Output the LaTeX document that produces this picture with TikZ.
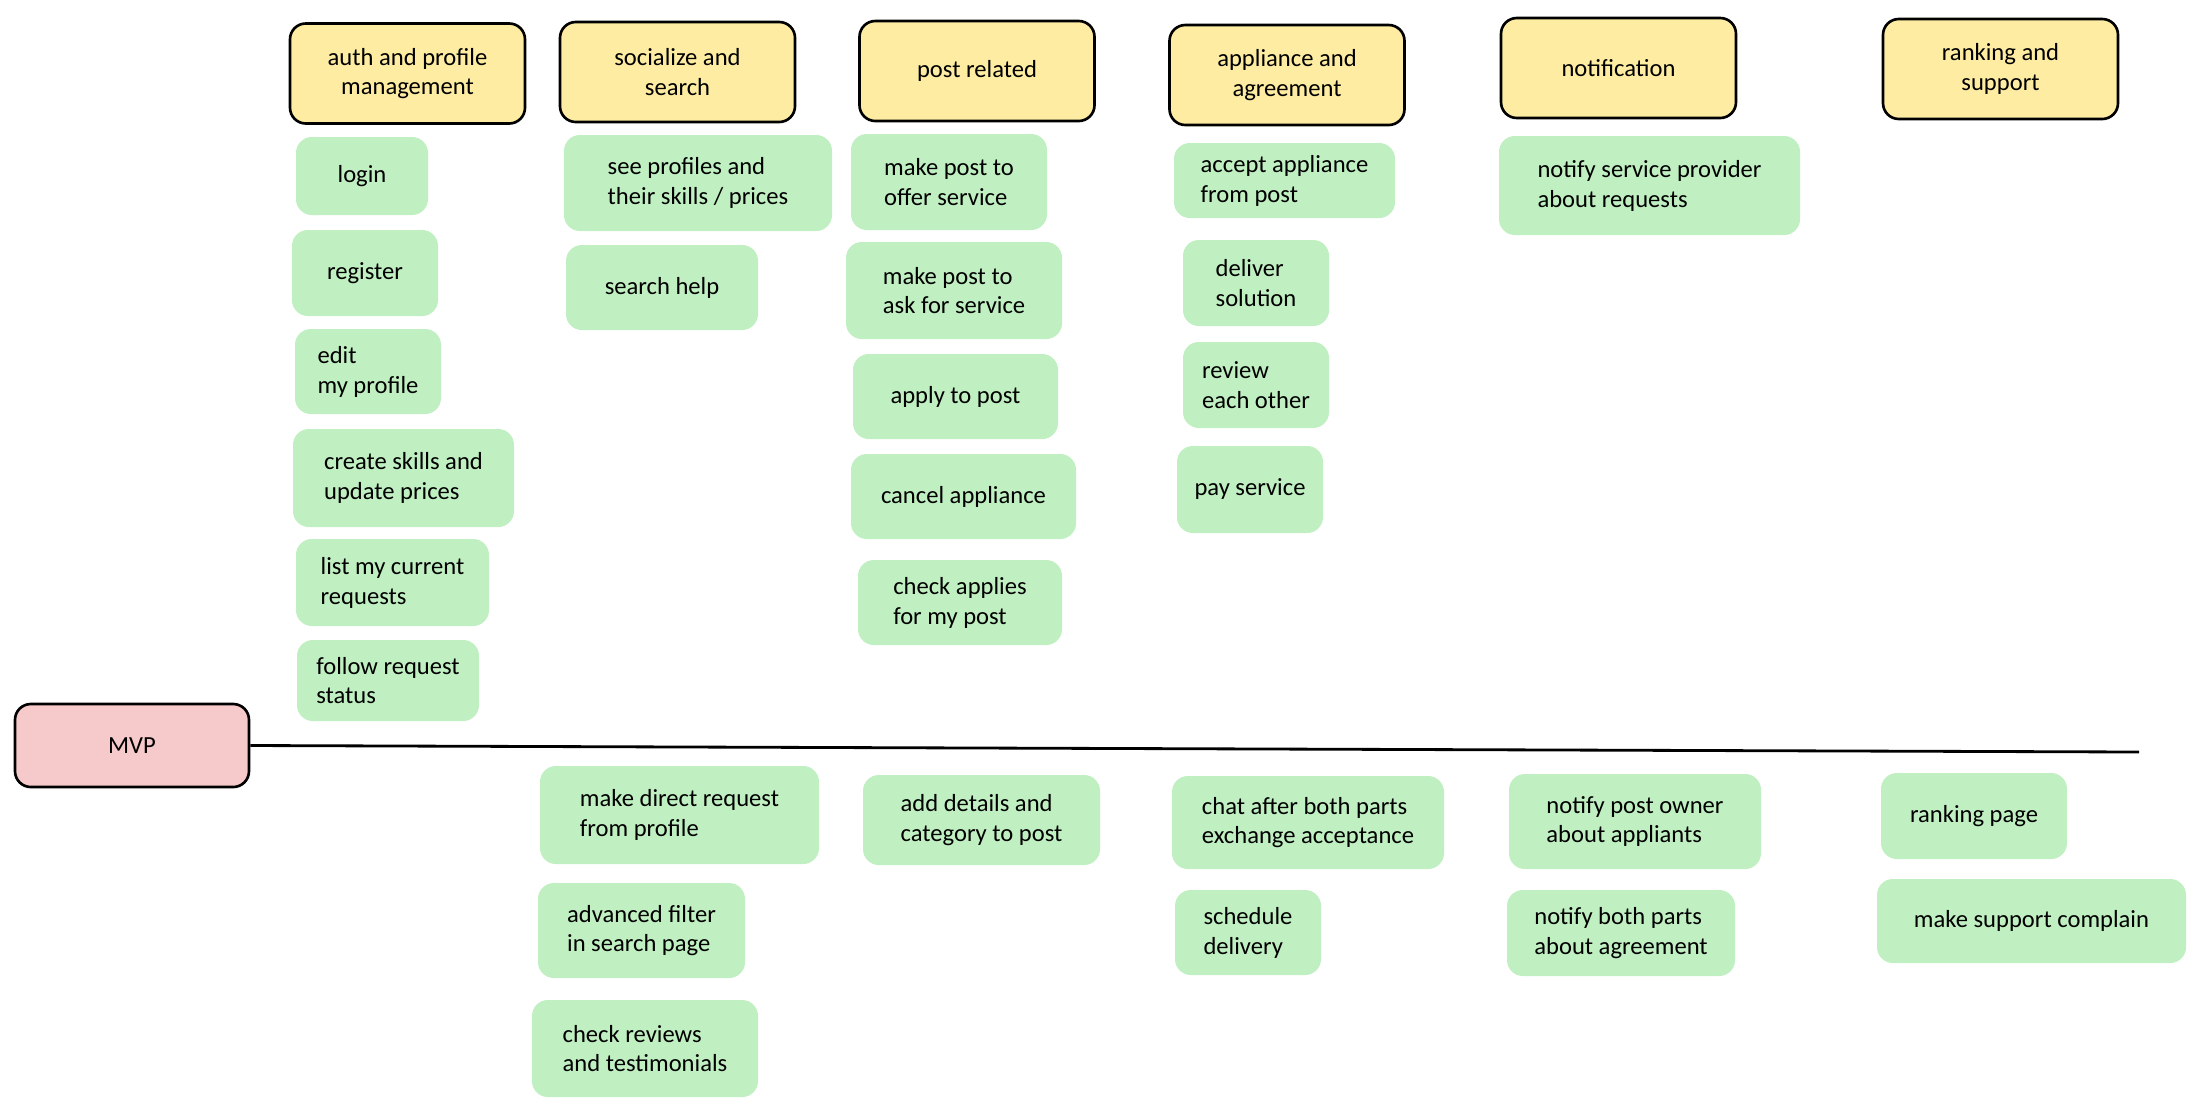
\documentclass[tikz,border=0pt]{standalone}
\usepackage{fontspec}
\setmainfont{Carlito}
\usepackage{xcolor}
\usepackage{tikz}
\definecolor{headyellow}{RGB}{253,236,161}
\definecolor{taskgreen}{RGB}{192,240,193}
\definecolor{mvppink}{RGB}{246,201,202}

\begin{document}
\begin{tikzpicture}[x=0.02cm, y=-0.02cm,
  every node/.style={font=\fontsize{14}{17}\selectfont},
  sz/.style 2 args={minimum width=#1*0.02cm, minimum height=#2*0.02cm},
  head/.style={draw=black, line width=1.5pt, fill=headyellow, rounded corners=9pt, align=center, inner sep=0pt},
  task/.style={fill=taskgreen, rounded corners=9pt, align=left, inner sep=0pt},
  mvpbox/.style={draw=black, line width=1.5pt, fill=mvppink, rounded corners=9pt, inner sep=0pt}]
\useasboundingbox (0,0) rectangle (2200,1110);

% feature groups
\node[head, sz={235}{100}] (auth) at (407.5,73.5) {auth and profile\\management};
\node[head, sz={235}{100}] (social) at (677.5,72) {socialize and\\search};
\node[head, sz={235}{100}] (post) at (977,71) {post related};
\node[head, sz={235}{100}] (agree) at (1287,75) {appliance and\\agreement};
\node[head, sz={235}{100}] (notif) at (1618.5,68) {notification};
\node[head, sz={235}{100}] (rank) at (2000.5,69) {ranking and\\support};

% above the line
\node[task, sz={132}{78}] (login) at (362,176) {login};
\node[task, sz={146}{86}] (register) at (365,273) {register};
\node[task, sz={146}{85}] (edit) at (368,371.5) {edit\\my profile};
\node[task, sz={221}{98}] (skills) at (403.5,478) {create skills and\\update prices};
\node[task, sz={193}{87}] (list) at (392.5,582.5) {list my current\\requests};
\node[task, sz={182}{81}] (follow) at (388,680.5) {follow request\\status};

\node[task, sz={268}{96}] (profiles) at (698,183) {see profiles and\\their skills / prices};
\node[task, sz={192}{85}] (search) at (662,287.5) {search help};

\node[task, sz={196}{96}] (offer) at (949,182) {make post to\\offer service};
\node[task, sz={216}{97}] (ask) at (954,290.5) {make post to\\ask for service};
\node[task, sz={205}{85}] (apply) at (955.5,396.5) {apply to post};
\node[task, sz={225}{85}] (cancel) at (963.5,496.5) {cancel appliance};
\node[task, sz={204}{85}] (applies) at (960,602.5) {check applies\\for my post};

\node[task, sz={221}{75}] (accept) at (1284.5,180.5) {accept appliance\\from post};
\node[task, sz={146}{86}] (deliver) at (1256,283) {deliver\\solution};
\node[task, sz={146}{86}] (review) at (1256,385) {review\\each other};
\node[task, sz={146}{87}] (pay) at (1250,489.5) {pay service};

\node[task, sz={301}{99}] (provider) at (1649.5,185.5) {notify service provider\\about requests};

% mvp cut
\node[mvpbox, sz={234}{83}] (mvp) at (132,745.5) {MVP};
\coordinate (cutend) at (2139,752);
\draw[line width=1.6pt] (mvp.east) -- (cutend);

% below the line
\node[task, sz={279}{98}] (direct) at (679.5,815) {make direct request\\from profile};
\node[task, sz={207}{95}] (filter) at (641.5,930.5) {advanced filter\\in search page};
\node[task, sz={226}{97}] (reviews) at (645,1048.5) {check reviews\\and testimonials};
\node[task, sz={237}{90}] (details) at (981.5,820) {add details and\\category to post};
\node[task, sz={272}{93}] (chat) at (1308,822.5) {chat after both parts\\exchange acceptance};
\node[task, sz={146}{85}] (schedule) at (1248,932.5) {schedule\\delivery};
\node[task, sz={252}{95}] (owner) at (1635,821.5) {notify post owner\\about appliants};
\node[task, sz={228}{86}] (both) at (1621,933) {notify both parts\\about agreement};
\node[task, sz={186}{86}] (rankpage) at (1974,816) {ranking page};
\node[task, sz={309}{84}] (complain) at (2031.5,921) {make support complain};
\end{tikzpicture}
\end{document}
